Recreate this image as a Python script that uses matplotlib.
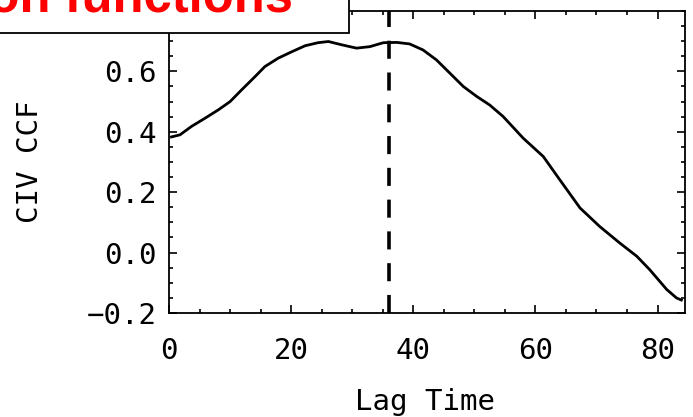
import numpy as np
import matplotlib.pyplot as plt
from matplotlib.patches import Rectangle
from matplotlib.ticker import MultipleLocator


# CIV cross-correlation function
lag = [0.4, 1.8, 3.7, 5.9, 8.1, 10.0, 11.9, 14.1, 15.7, 17.9, 20.1, 22.3,
       24.4, 26.1, 28.3, 30.7, 32.9, 35.1, 37.3, 39.4, 41.6, 43.8, 46.0,
       48.2, 50.4, 52.5, 54.7, 58.0, 61.3, 64.0, 67.3, 70.5, 73.8, 76.6,
       78.7, 81.5, 83.1, 83.9]
ccf = [0.383, 0.390, 0.418, 0.445, 0.473, 0.500, 0.539, 0.583, 0.616, 0.644,
       0.665, 0.685, 0.695, 0.699, 0.688, 0.677, 0.682, 0.695, 0.696, 0.691,
       0.671, 0.638, 0.594, 0.550, 0.517, 0.489, 0.451, 0.379, 0.318, 0.241,
       0.148, 0.087, 0.032, -0.012, -0.056, -0.122, -0.150, -0.157]
peak_lag = 36
x_ticks = [0, 20, 40, 60, 80]
y_ticks = [-0.2, 0.0, 0.2, 0.4, 0.6]
banner = 'Cross-correlation functions'

plt.rcParams['font.family'] = ['DejaVu Sans Mono']

fig = plt.figure(figsize=(6.93, 4.17), dpi=100)
ax = fig.add_axes([169/693, 1 - 313/417, 516/693, 302/417])

ax.plot(lag, ccf, color='black', lw=2, solid_joinstyle='round')
ax.plot([peak_lag, peak_lag], [-0.2, 0.8], color='black', lw=2.6,
        linestyle=(0, (5.0, 3.8)))

ax.set_xlim(0, 84.5)
ax.set_ylim(-0.2, 0.8)
ax.set_xticks(x_ticks)
ax.set_yticks(y_ticks)
ax.xaxis.set_minor_locator(MultipleLocator(5))
ax.yaxis.set_minor_locator(MultipleLocator(0.05))
ax.yaxis.set_major_formatter(plt.FuncFormatter(lambda v, p: f'{v:.1f}'.replace('-', '\u2212')))

ax.tick_params(which='both', direction='in', top=True, right=True, width=1.2,
               labelsize=21)
ax.tick_params(which='major', length=6)
ax.tick_params(which='minor', length=3)
ax.tick_params(axis='x', pad=17)
ax.tick_params(axis='y', pad=9)
for s in ax.spines.values():
    s.set_linewidth(1.3)

fig.text(425/693, 7/417, 'Lag Time', ha='center', va='baseline', fontsize=21)
fig.text(30/693, 1 - 162/417, 'CIV CCF', ha='center', va='center',
         rotation=90, fontsize=21)

# title banner sticking in from the top-left, mostly cut off
fig.patches.append(Rectangle((-20/693, 1 - 33/417), 369/693, 60/417,
                             transform=fig.transFigure, facecolor='white',
                             edgecolor='black', lw=1.3, zorder=5))
fig.text(293/693, 1 - 12/417, banner, ha='right', va='baseline',
         fontsize=36.5, fontweight='bold', color='#ff0000',
         family='Liberation Sans', zorder=6)

fig.savefig('out.png', dpi=100)
